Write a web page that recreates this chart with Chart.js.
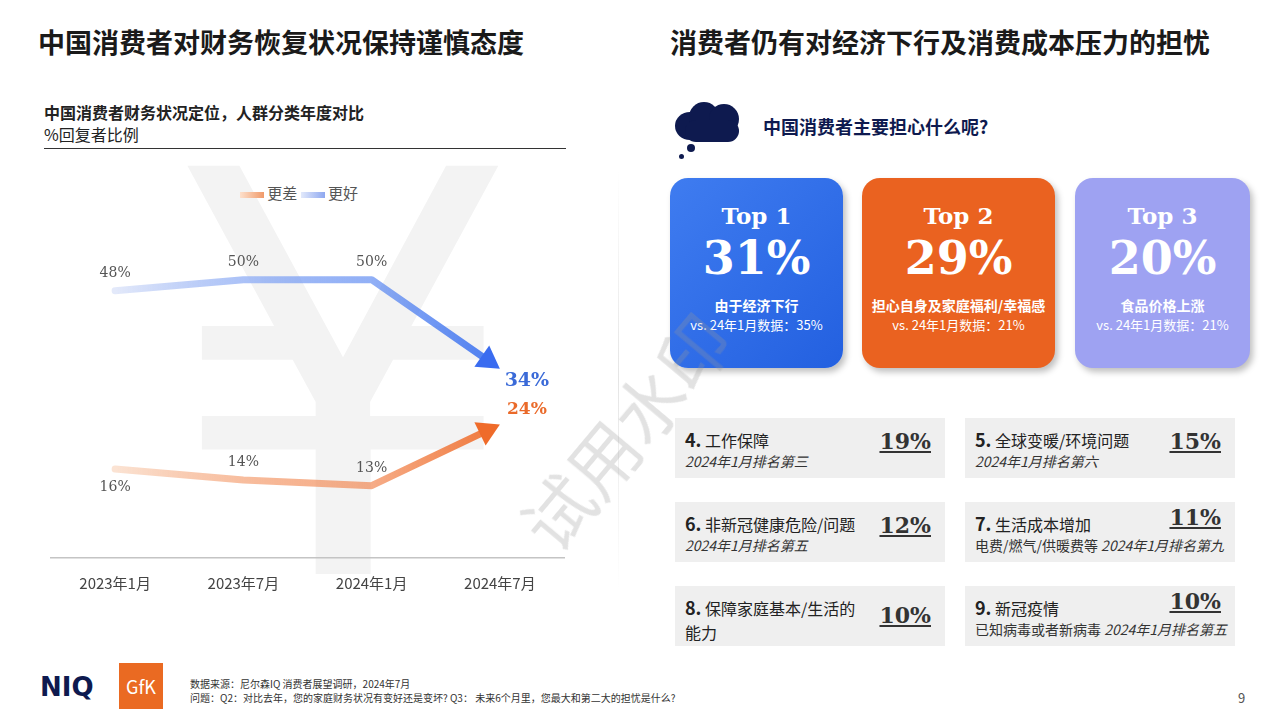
<!DOCTYPE html>
<html><head><meta charset="utf-8">
<script src="https://cdn.jsdelivr.net/npm/chart.js@4"></script>
<style>
body{margin:0;width:1280px;height:720px;background:#fff;font-family:"Noto Sans CJK SC","Noto Sans",sans-serif;position:relative;overflow:hidden;color:#222}
.abs{position:absolute}
h1{position:absolute;margin:0;font-size:27px;font-weight:700;color:#1a1a1a}
.card{position:absolute;top:178px;height:190px;border-radius:18px;color:#fff;text-align:center;box-shadow:3px 4px 6px rgba(0,0,0,.25)}
.card .t{font-family:"DejaVu Serif",serif;font-weight:700;font-size:23px;margin-top:24px}
.card .p{font-family:"DejaVu Serif",serif;font-weight:700;font-size:46px;line-height:58px}
.card .d{font-size:14px;font-weight:700;margin-top:8px}
.card .v{font-size:13px}
.box{position:absolute;width:270px;height:60px;background:#efefef}
.box .n{position:absolute;left:10px;top:8px;font-size:16px}
.box .n b{font-size:18px}
.box .s{position:absolute;left:10px;top:33px;font-size:14px;font-style:italic;color:#333;white-space:nowrap}
.box .p{position:absolute;right:14px;top:10px;font-family:"DejaVu Serif",serif;font-weight:700;font-size:22px;text-decoration:underline;color:#333}
</style></head><body>
<h1 style="left:38px;top:22px">中国消费者对财务恢复状况保持谨慎态度</h1>
<h1 style="left:670px;top:22px">消费者仍有对经济下行及消费成本压力的担忧</h1>
<div class="abs" style="left:44px;top:100px;font-size:16px;font-weight:700">中国消费者财务状况定位，人群分类年度对比</div>
<div class="abs" style="left:44px;top:122px;font-size:16px">%回复者比例</div>
<div class="abs" style="left:44px;top:148px;width:522px;border-top:1.5px solid #333"></div>
<div class="abs" style="left:165px;top:100px;font-size:560px;line-height:560px;color:#f3f3f3;font-family:'DejaVu Sans'">¥</div>
<div class="abs" style="left:618px;top:170px;width:1px;height:420px;background:linear-gradient(#fff,#e5e5e5,#fff)"></div>
<div class="abs" style="left:240px;top:182px;font-size:15px;color:#555">
<span style="display:inline-block;width:24px;height:6px;background:linear-gradient(90deg,#fde0cc,#f09a6a);vertical-align:middle"></span> 更差
<span style="display:inline-block;width:24px;height:6px;background:linear-gradient(90deg,#e2e9fb,#8ea8f0);vertical-align:middle"></span> 更好</div>
<canvas id="c" class="abs" style="left:40px;top:170px;width:560px;height:430px"></canvas>

<div class="abs" style="left:675px;top:100px;width:70px;height:60px">
<div class="abs" style="left:0;top:12px;width:30px;height:28px;border-radius:50%;background:#0e1a4f"></div>
<div class="abs" style="left:14px;top:2px;width:30px;height:30px;border-radius:50%;background:#0e1a4f"></div>
<div class="abs" style="left:34px;top:4px;width:30px;height:30px;border-radius:50%;background:#0e1a4f"></div>
<div class="abs" style="left:10px;top:20px;width:54px;height:22px;border-radius:11px;background:#0e1a4f"></div>
<div class="abs" style="left:12px;top:44px;width:8px;height:8px;border-radius:50%;background:#0e1a4f"></div>
<div class="abs" style="left:4px;top:54px;width:5px;height:5px;border-radius:50%;background:#0e1a4f"></div>
</div>
<div class="abs" style="left:763px;top:113px;font-size:18px;font-weight:700;color:#0e1a4f">中国消费者主要担心什么呢?</div>

<div class="card" style="left:670px;width:173px;background:linear-gradient(135deg,#3f7cf0,#2360e0)"><div class="t">Top 1</div><div class="p">31%</div><div class="d">由于经济下行</div><div class="v">vs. 24年1月数据：35%</div></div>
<div class="card" style="left:862px;width:193px;background:#ea6220"><div class="t">Top 2</div><div class="p">29%</div><div class="d">担心自身及家庭福利/幸福感</div><div class="v">vs. 24年1月数据：21%</div></div>
<div class="card" style="left:1075px;width:175px;background:#9ea2f2"><div class="t">Top 3</div><div class="p">20%</div><div class="d">食品价格上涨</div><div class="v">vs. 24年1月数据：21%</div></div>

<div class="box" style="left:675px;top:418px"><div class="n"><b>4.</b> 工作保障</div><div class="s">2024年1月排名第三</div><div class="p">19%</div></div>
<div class="box" style="left:965px;top:418px"><div class="n"><b>5.</b> 全球变暖/环境问题</div><div class="s">2024年1月排名第六</div><div class="p">15%</div></div>
<div class="box" style="left:675px;top:502px"><div class="n"><b>6.</b> 非新冠健康危险/问题</div><div class="s">2024年1月排名第五</div><div class="p">12%</div></div>
<div class="box" style="left:965px;top:502px"><div class="n"><b>7.</b> 生活成本增加</div><div class="s"><span style="font-style:normal">电费/燃气/供暖费等</span> 2024年1月排名第九</div><div class="p" style="top:2px">11%</div></div>
<div class="box" style="left:675px;top:586px"><div class="n"><b>8.</b> 保障家庭基本/生活的<br>能力</div><div class="p" style="top:16px">10%</div></div>
<div class="box" style="left:965px;top:586px"><div class="n"><b>9.</b> 新冠疫情</div><div class="s"><span style="font-style:normal">已知病毒或者新病毒</span> 2024年1月排名第五</div><div class="p" style="top:2px">10%</div></div>

<div class="abs" style="font-size:70px;color:rgba(150,150,150,.28);transform:rotate(-50deg);transform-origin:left top;white-space:nowrap;top:505px;left:495px">试用水印</div>

<div class="abs" style="left:40px;top:672px;font-size:26px;font-weight:900;color:#0e1a4f;font-family:'DejaVu Sans'">NIQ</div>
<div class="abs" style="left:119px;top:663px;width:44px;height:46px;background:#ea6a22;color:#fff;font-size:18px;text-align:center;line-height:46px">GfK</div>
<div class="abs" style="left:190px;top:677px;font-size:10px;color:#333;line-height:14px">数据来源：尼尔森IQ 消费者展望调研，2024年7月<br>问题：Q2：对比去年，您的家庭财务状况有变好还是变坏? Q3： 未来6个月里，您最大和第二大的担忧是什么?</div>
<div class="abs" style="left:1238px;top:688px;font-size:13px;color:#555">9</div>

<script>
const periods = ['2023年1月', '2023年7月', '2024年1月', '2024年7月'];
const worse = [16, 14, 13, 24];
const better = [48, 50, 50, 34];

const arrows = {
  id: 'arrows',
  afterDatasetsDraw(chart) {
    const ctx = chart.ctx;
    const specs = [
      { i: 0, from: '#fbe3d3', to: '#f0773a', end: '#ef6b2a', vals: worse, above: [false, true, true] },
      { i: 1, from: '#e3e9fa', to: '#4a7cf0', end: '#3a6cf0', vals: better, above: [true, true, true] }
    ];
    specs.forEach(s => {
      const pts = chart.getDatasetMeta(s.i).data;
      const n = pts.length;
      const g = ctx.createLinearGradient(pts[0].x, 0, pts[n - 1].x, 0);
      g.addColorStop(0, s.from); g.addColorStop(0.66, s.to + '99'); g.addColorStop(1, s.to);
      const a = pts[n - 2], b = pts[n - 1];
      const ang = Math.atan2(b.y - a.y, b.x - a.x);
      const ex = b.x - Math.cos(ang) * 16, ey = b.y - Math.sin(ang) * 16;
      ctx.save();
      ctx.strokeStyle = g; ctx.lineWidth = 7; ctx.lineCap = 'round'; ctx.lineJoin = 'round';
      ctx.beginPath();
      pts.forEach((p, k) => k === n - 1 ? ctx.lineTo(ex, ey) : (k ? ctx.lineTo(p.x, p.y) : ctx.moveTo(p.x, p.y)));
      ctx.stroke();
      ctx.fillStyle = s.end;
      ctx.translate(b.x, b.y); ctx.rotate(ang);
      ctx.beginPath(); ctx.moveTo(0, 0); ctx.lineTo(-22, -13); ctx.lineTo(-22, 13); ctx.closePath(); ctx.fill();
      ctx.restore();
      ctx.save();
      ctx.font = '14px "DejaVu Serif", serif'; ctx.fillStyle = '#555'; ctx.textAlign = 'center';
      for (let k = 0; k < n - 1; k++) {
        const p = pts[k];
        ctx.fillText(s.vals[k] + '%', p.x, s.above[k] ? p.y - 14 : p.y + 22);
      }
      ctx.restore();
    });
    const pb = chart.getDatasetMeta(1).data[3];
    ctx.save();
    ctx.font = 'bold 19px "DejaVu Serif", serif'; ctx.textAlign = 'center';
    ctx.fillStyle = '#3a6ad8'; ctx.fillText(better[3] + '%', pb.x + 27, pb.y + 17);
    ctx.font = 'bold 17px "DejaVu Serif", serif';
    ctx.fillStyle = '#ea6a2a'; ctx.fillText(worse[3] + '%', pb.x + 27, pb.y + 45);
    ctx.restore();
  }
};

new Chart(document.getElementById('c'), {
  type: 'line',
  data: {
    labels: periods,
    datasets: [
      { label: '更差', data: worse, borderWidth: 0, pointRadius: 0 },
      { label: '更好', data: better, borderWidth: 0, pointRadius: 0 }
    ]
  },
  options: {
    responsive: false, animation: false,
    layout: { padding: { left: 11, right: 36, top: 54, bottom: 0 } },
    plugins: { legend: { display: false }, tooltip: { enabled: false } },
    scales: {
      x: { offset: true, grid: { display: false }, border: { display: true, color: '#c4c4c4', width: 1.5 },
           ticks: { color: '#444', font: { size: 15, family: '"Noto Sans CJK SC"' }, padding: 8 } },
      y: { display: false, min: 0, max: 60 }
    }
  },
  plugins: [arrows]
});
</script>
</body></html>
